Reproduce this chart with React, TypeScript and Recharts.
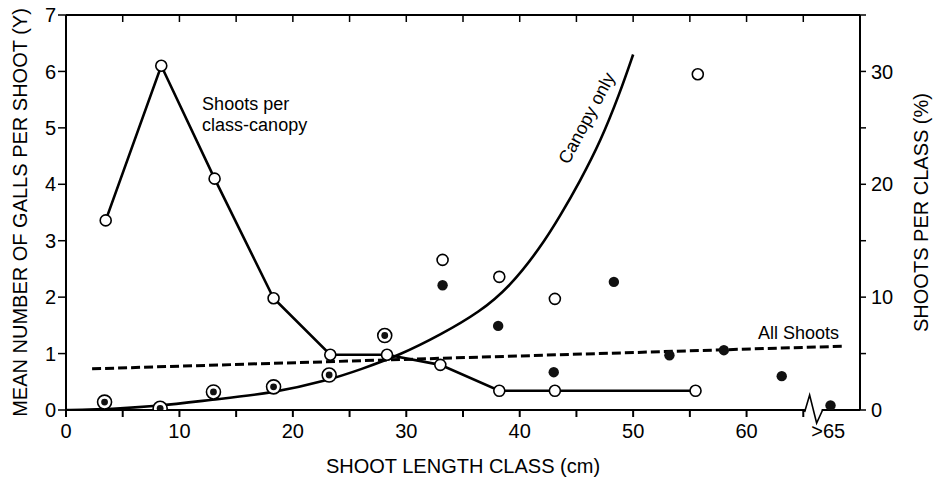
import React from "react";
import { ComposedChart, Line, Scatter, XAxis, YAxis, ReferenceDot } from "recharts";

const FONT = '"Liberation Sans", Arial, Helvetica, sans-serif';

// shoots per class, canopy (right axis, %)
const lineClasses = [3.5, 8.4, 13.1, 18.3, 23.3, 28.3, 33.0, 38.2, 43.1, 55.5];
const shootsPerClassCanopy = [16.8, 30.5, 20.5, 9.9, 4.9, 4.9, 4.0, 1.7, 1.7, 1.7];

// classes where canopy and all shoots give the same mean (circled dots)
const sharedClasses = [3.4, 8.3, 13.0, 18.3, 23.2, 28.1];
const sharedGalls = [0.14, 0.03, 0.32, 0.41, 0.62, 1.32];

// canopy only (open circles)
const canopyClasses = [33.2, 38.2, 43.1, 55.7];
const canopyGalls = [2.66, 2.36, 1.97, 5.95];

// all shoots (filled dots)
const allClasses = [33.2, 38.1, 43.0, 48.3, 53.2, 58.0, 63.1, 67.4];
const allGalls = [2.21, 1.49, 0.67, 2.27, 0.97, 1.06, 0.6, 0.08];

// fitted curves
const canopyFitX = [0, 2, 8.3, 12.7, 18.3, 23.0, 26.0, 29.45, 33.0, 36.5, 39.1, 41.8, 43.6, 45.3, 47.1, 48.8, 50];
const canopyFitY = [0, 0, 0.07, 0.18, 0.3, 0.52, 0.72, 0.975, 1.33, 1.74, 2.18, 2.87, 3.45, 4.05, 4.75, 5.6, 6.3];
const allFitX = [2.3, 68.4];
const allFitY = [0.73, 1.13];

const xTicks = [0, 5, 10, 15, 20, 25, 30, 35, 40, 45, 50, 55, 60, 65, 67.2];
const topTicks = [5, 10, 15, 20, 25, 30, 35, 40, 45, 50, 55, 60, 65];
const leftTicks = [0, 1, 2, 3, 4, 5, 6, 7];
const rightTicks = [0, 5, 10, 15, 20, 25, 30, 35];

const pts = (xs: number[], ys: number[]) => xs.map((x, i) => ({ x, y: ys[i] }));

const BottomTick = (props: any) => {
  const { x, y, payload } = props;
  const v = payload.value;
  const label = v > 65 ? ">65" : v % 10 === 0 ? String(v) : "";
  return (
    <g>
      {v <= 65 && <line x1={x} x2={x} y1={y - 10} y2={y - 3} stroke="#000" strokeWidth={2} />}
      {label && (
        <text x={x} y={y + 18} textAnchor="middle" fontSize={20} fontFamily={FONT} fill="#000">
          {label}
        </text>
      )}
    </g>
  );
};

const RightTick = (props: any) => {
  const { x, y, payload } = props;
  if (payload.value % 10 !== 0) return <g />;
  return (
    <text x={x} y={y} dy="0.36em" textAnchor="start" fontSize={20} fontFamily={FONT} fill="#000">
      {payload.value}
    </text>
  );
};

const openDot = (p: any) => (
  <circle key={`o${p.index}-${p.cx}`} cx={p.cx} cy={p.cy} r={5.5} fill="#fff" stroke="#000" strokeWidth={1.6} />
);
const filledDot = (p: any) => <circle cx={p.cx} cy={p.cy} r={5.2} fill="#111" />;
const ringDot = (p: any) => (
  <g>
    <circle cx={p.cx} cy={p.cy} r={7} fill="#fff" stroke="#000" strokeWidth={1.6} />
    <circle cx={p.cx} cy={p.cy} r={3.4} fill="#111" />
  </g>
);

const note = (lines: string[], angle = 0, anchor = "start") => (p: any) => (
  <text
    x={p.cx}
    y={p.cy}
    fontSize={18}
    fontFamily={FONT}
    fill="#000"
    textAnchor={anchor}
    dominantBaseline={angle ? "central" : "alphabetic"}
    transform={angle ? `rotate(${angle} ${p.cx} ${p.cy})` : undefined}
  >
    {lines.map((l, i) => (
      <tspan key={l} x={p.cx} dy={i === 0 ? 0 : 21}>
        {l}
      </tspan>
    ))}
  </text>
);

const axisBreak = (p: any) => (
  <g>
    <rect x={p.cx - 9} y={p.cy - 3} width={16} height={6} fill="#fff" />
    <polyline
      points={`${p.cx - 10},${p.cy + 2} ${p.cx - 5},${p.cy - 15} ${p.cx + 2},${p.cy + 13} ${p.cx + 8},${p.cy}`}
      fill="none"
      stroke="#000"
      strokeWidth={1.6}
    />
  </g>
);

const tickFont = { fontSize: 20, fill: "#000", fontFamily: FONT };

export default function App() {
  return (
    <div style={{ width: 933, height: 479, background: "#fff" }}>
      <style>{"body{margin:0}"}</style>
      <ComposedChart width={933} height={479} margin={{ top: 15, right: 0, bottom: 0, left: 0 }}>
        <XAxis
          dataKey="x"
          type="number"
          domain={[0, 70]}
          ticks={xTicks}
          interval={0}
          height={69}
          tickSize={7}
          tickMargin={3}
          tickLine={false}
          tick={<BottomTick />}
          axisLine={{ stroke: "#000", strokeWidth: 2 }}
          allowDataOverflow
          label={{
            value: "SHOOT LENGTH CLASS (cm)",
            position: "insideBottom",
            offset: 6,
            style: { fontSize: 20, fill: "#000", fontFamily: FONT },
          }}
        />
        <XAxis
          xAxisId="top"
          orientation="top"
          dataKey="x"
          type="number"
          domain={[0, 70]}
          ticks={topTicks}
          interval={0}
          height={8}
          mirror
          tickSize={7}
          tick={() => <g />}
          tickLine={{ stroke: "#000", strokeWidth: 1.5 }}
          axisLine={{ stroke: "#000", strokeWidth: 2 }}
          allowDataOverflow
        />
        <YAxis
          yAxisId="left"
          dataKey="y"
          type="number"
          domain={[0, 7]}
          ticks={leftTicks}
          interval={0}
          width={66}
          tickSize={8}
          tickMargin={2}
          tick={tickFont}
          tickLine={{ stroke: "#000", strokeWidth: 1.5 }}
          axisLine={{ stroke: "#000", strokeWidth: 2 }}
          allowDataOverflow
          label={{
            value: "MEAN NUMBER OF GALLS PER SHOOT (Y)",
            angle: -90,
            position: "insideLeft",
            offset: 20,
            style: { textAnchor: "middle", fontSize: 20, fill: "#000", fontFamily: FONT },
          }}
        />
        <YAxis
          yAxisId="right"
          orientation="right"
          dataKey="y"
          type="number"
          domain={[0, 35]}
          ticks={rightTicks}
          interval={0}
          width={73}
          tickSize={6}
          tickMargin={5}
          tick={<RightTick />}
          tickLine={{ stroke: "#000", strokeWidth: 1.5 }}
          axisLine={{ stroke: "#000", strokeWidth: 2 }}
          allowDataOverflow
          label={{
            value: "SHOOTS PER CLASS (%)",
            angle: -90,
            position: "insideRight",
            offset: 12,
            style: { textAnchor: "middle", fontSize: 20, fill: "#000", fontFamily: FONT },
          }}
        />

        <Line
          yAxisId="left"
          data={pts(canopyFitX, canopyFitY)}
          dataKey="y"
          type="basis"
          stroke="#000"
          strokeWidth={2.6}
          dot={false}
          activeDot={false}
          isAnimationActive={false}
        />
        <Line
          xAxisId="top"
          yAxisId="left"
          data={pts(allFitX, allFitY)}
          dataKey="y"
          type="linear"
          stroke="#000"
          strokeWidth={3}
          strokeDasharray="9 4"
          dot={false}
          activeDot={false}
          isAnimationActive={false}
        />
        <Line
          yAxisId="right"
          data={pts(lineClasses, shootsPerClassCanopy)}
          dataKey="y"
          type="linear"
          stroke="#000"
          strokeWidth={2.6}
          dot={openDot}
          activeDot={false}
          isAnimationActive={false}
        />
        <Scatter yAxisId="left" data={pts(sharedClasses, sharedGalls)} dataKey="y" shape={ringDot} isAnimationActive={false} />
        <Scatter yAxisId="left" data={pts(canopyClasses, canopyGalls)} dataKey="y" shape={openDot} isAnimationActive={false} />
        <Scatter yAxisId="left" data={pts(allClasses, allGalls)} dataKey="y" shape={filledDot} isAnimationActive={false} />

        <ReferenceDot yAxisId="left" x={12.0} y={5.32} r={0} ifOverflow="visible" shape={note(["Shoots per", "class-canopy"])} />
        <ReferenceDot yAxisId="left" x={61.0} y={1.26} r={0} ifOverflow="visible" shape={note(["All Shoots"])} />
        <ReferenceDot yAxisId="left" x={45.9} y={5.17} r={0} ifOverflow="visible" shape={note(["Canopy only"], -62, "middle")} />
        <ReferenceDot yAxisId="left" x={66} y={0} r={0} ifOverflow="visible" shape={axisBreak} />
      </ComposedChart>
    </div>
  );
}
